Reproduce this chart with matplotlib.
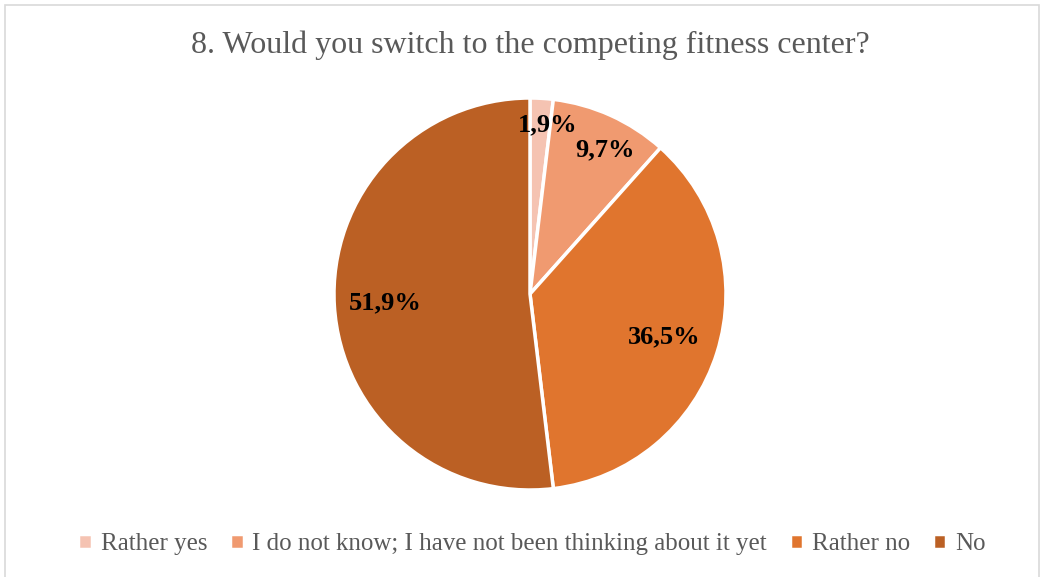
import numpy as np
import matplotlib.pyplot as plt
from matplotlib.patches import Rectangle

plt.rcParams['font.family'] = ['Liberation Serif', 'DejaVu Serif']

# data
categories = ["Rather yes", "I do not know; I have not been thinking about it yet", "Rather no", "No"]
values = [1.9, 9.7, 36.5, 51.9]
labels = ["1,9%", "9,7%", "36,5%", "51,9%"]
colors = ["#F5C3B2", "#F09A70", "#E0752E", "#BB6024"]
label_dist = [0.87, 0.83, 0.72, 0.74]
label_shift = [-2.7, -3.2, 0, 0]  # degrees, small nudges like the original

fig = plt.figure(figsize=(10.44, 5.77), dpi=100)

# light gray frame around chart area
fig.patches.append(Rectangle((5 / 1044, -0.01), 1034 / 1044, 1 - 5 / 577 + 0.01,
                             transform=fig.transFigure, fill=False,
                             edgecolor="#D9D9D9", linewidth=1.2))

# pie axes: center (530, 294), radius ~196 px
r = 196
cx, cy = 530, 577 - 294
ax = fig.add_axes([(cx - r) / 1044, (cy - r) / 577, 2 * r / 1044, 2 * r / 577])
wedges, _ = ax.pie(values, colors=colors, startangle=90, counterclock=False,
                   wedgeprops=dict(edgecolor="white", linewidth=2.5))
ax.set_xlim(-1, 1)
ax.set_ylim(-1, 1)
ax.set_aspect("equal")

# data labels
total = sum(values)
start = 90
for v, lab, d, s in zip(values, labels, label_dist, label_shift):
    mid = start - v / total * 360 / 2 + s
    start -= v / total * 360
    x = d * np.cos(np.radians(mid))
    y = d * np.sin(np.radians(mid))
    ax.text(x, y, lab, ha="center", va="center", fontsize=19, fontweight="bold", color="black")

fig.text(530 / 1044, 1 - 45 / 577, "8. Would you switch to the competing fitness center?",
         ha="center", va="center", fontsize=23, color="#595959")

fig.legend(wedges, categories, loc="center", bbox_to_anchor=(532 / 1044, 1 - 544 / 577),
           ncol=4, frameon=False, fontsize=18, handlelength=0.55, handleheight=0.55,
           handletextpad=0.35, columnspacing=0.9, labelcolor="#595959")

fig.savefig("out.png", dpi=100)
